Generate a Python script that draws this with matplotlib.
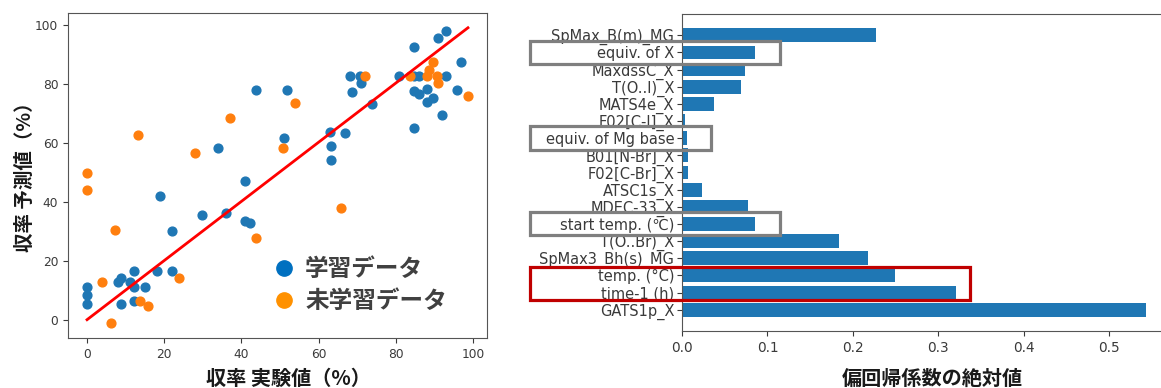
import matplotlib.pyplot as plt
import matplotlib.patches as mpatches
import matplotlib.transforms as mtransforms
from matplotlib.lines import Line2D

# ── Data ──────────────────────────────────────────────────────
train_x = [0, 0, 0, 8.1, 8.8, 8.8, 11.1, 12.1, 12.1, 12.1, 15.0, 18.2,
           18.9, 22.1, 22.1, 29.9, 33.9, 36.0, 41.0, 41.0, 42.1, 43.8,
           51.1, 51.9, 63.0, 63.2, 63.2, 66.9, 68.1, 68.7, 70.8, 71.0,
           73.9, 80.8, 84.7, 84.7, 84.7, 86.0, 86.0, 88.2, 88.2, 89.7,
           90.9, 91.9, 93.1, 93.1, 95.9, 96.8, 84.7]
train_y = [11.0, 8.5, 5.3, 12.8, 14.2, 5.3, 12.8, 16.5, 11.0, 6.5, 11.0, 16.5,
           42.2, 30.2, 16.5, 35.7, 58.3, 36.3, 47.3, 33.4, 33.0, 77.9,
           61.9, 77.9, 63.9, 59.1, 54.4, 63.3, 82.7, 77.4, 82.7, 80.4,
           73.3, 82.7, 92.6, 77.8, 65.0, 82.7, 76.7, 78.3, 74.1, 75.3,
           95.8, 69.6, 98.1, 82.7, 78.1, 87.4, 82.7]

test_x = [0, 0, 3.9, 6.1, 7.2, 13.2, 13.7, 15.9, 23.8, 28.1, 37.1, 43.8,
          50.9, 53.8, 65.9, 71.9, 83.8, 88.2, 88.6, 89.7, 90.8, 90.9, 98.7]
test_y = [49.8, 44.1, 12.8, -1.2, 30.6, 62.9, 6.5, 4.8, 14.2, 56.8, 68.5, 27.7,
          58.3, 73.7, 38.1, 82.7, 82.7, 82.7, 84.9, 87.4, 82.7, 80.4, 76.1]

fit_x = [0, 98.7]
fit_y = [0, 99.2]

features = ['GATS1p_X', 'time-1 (h)', 'temp. (°C)', 'SpMax3_Bh(s)_MG',
            'T(O..Br)_X', 'start temp. (℃)', 'MDEC-33_X', 'ATSC1s_X',
            'F02[C-Br]_X', 'B01[N-Br]_X', 'equiv. of Mg base', 'F02[C-I]_X',
            'MATS4e_X', 'T(O..I)_X', 'MaxdssC_X', 'equiv. of X', 'SpMax_B(m)_MG']
coef_abs = [0.5427, 0.3205, 0.249, 0.218, 0.184, 0.0857, 0.0776, 0.023,
            0.0074, 0.0074, 0.0055, 0.004, 0.038, 0.069, 0.074, 0.0857, 0.227]

JP = ['Noto Sans CJK JP', 'DejaVu Sans']
TICK_C = '#3a3a3a'
SPINE_C = '#555555'

fig = plt.figure(figsize=(11.61, 3.88), dpi=100)
fig.patch.set_facecolor('white')

# ══ Left: predicted vs. experimental ═══════════════════════
ax1 = fig.add_axes([68/1161, 1-338/388, 419/1161, 325/388])
ax1.scatter(train_x, train_y, color='#1f77b4', s=40, zorder=2)
ax1.scatter(test_x, test_y, color='#ff7f0e', s=40, zorder=2)
ax1.plot(fit_x, fit_y, color='red', linewidth=2, zorder=3)
ax1.set_xticks([0, 20, 40, 60, 80, 100])
ax1.set_yticks([0, 20, 40, 60, 80, 100])
ax1.tick_params(labelsize=8.8, colors=TICK_C)
for s in ax1.spines.values():
    s.set_color(SPINE_C)

handles = [Line2D([], [], marker='o', linestyle='none', markersize=11,
                  markerfacecolor='#0070C0', markeredgecolor='#0070C0'),
           Line2D([], [], marker='o', linestyle='none', markersize=11,
                  markerfacecolor='#FF9100', markeredgecolor='#FF9100')]
leg = ax1.legend(handles, ['学習データ', '未学習データ'], loc='lower right',
                 bbox_to_anchor=(0.955, 0.01), frameon=False,
                 handletextpad=0.1, labelspacing=0.35, handlelength=1.6,
                 prop={'family': JP, 'size': 17, 'weight': 'bold'})
for t in leg.get_texts():
    t.set_color('#404040')

fig.text(25/1161, 1-172/388, '収率 予測値（%）', rotation=90, ha='center',
         va='center', fontsize=14, fontweight='bold', family=JP, color='#1a1a1a')
fig.text(288/1161, 1-378/388, '収率 実験値（%）', ha='center', va='center',
         fontsize=14.5, fontweight='bold', family=JP, color='#1a1a1a')

# ══ Right: partial regression coefficients ═════════════════
ax2 = fig.add_axes([682/1161, 1-331/388, 487/1161, 317/388])
ax2.barh(features, coef_abs, color='#1f77b4', height=0.8)
ax2.set_xticks([0, 0.1, 0.2, 0.3, 0.4, 0.5])
ax2.tick_params(axis='x', labelsize=9.8, colors=TICK_C)
ax2.tick_params(axis='y', labelsize=10.5, colors=TICK_C, pad=2)
for s in ax2.spines.values():
    s.set_color(SPINE_C)

fig.text(932/1161, 1-378/388, '偏回帰係数の絶対値', ha='center', va='center',
         fontsize=14.5, fontweight='bold', family=JP, color='#1a1a1a')

# highlight boxes around labels (x in axes fraction, y in bar index)
trans = mtransforms.blended_transform_factory(ax2.transAxes, ax2.transData)
boxes = [(15 - 0.66, 1.32, -0.312, 0.513, '#7f7f7f'),
         (10 - 0.70, 1.40, -0.312, 0.371, '#7f7f7f'),
         (5 - 0.62, 1.32, -0.312, 0.513, '#7f7f7f'),
         (0.55, 1.96, -0.312, 0.903, '#c00000')]
for y0, h, x0, w, c in boxes:
    ax2.add_patch(mpatches.Rectangle((x0, y0), w, h, transform=trans,
                                     fill=False, edgecolor=c, linewidth=2.3,
                                     clip_on=False, zorder=5))

fig.savefig('out.png', dpi=100, facecolor='white')
